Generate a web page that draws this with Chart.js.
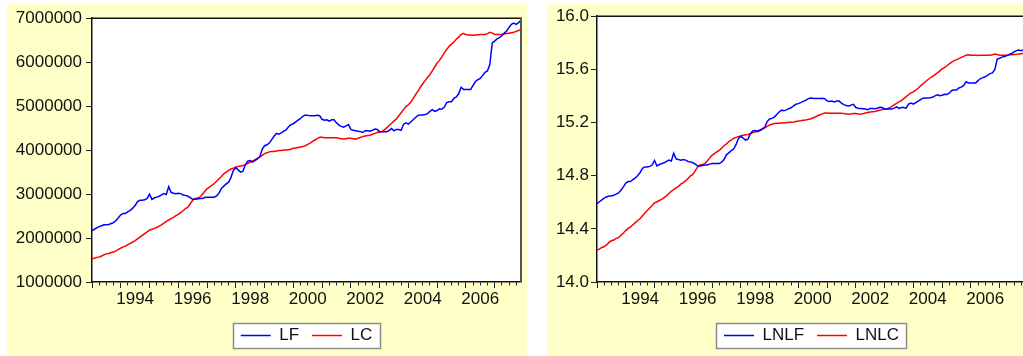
<!DOCTYPE html>
<html><head><meta charset="utf-8">
<script src="https://cdn.jsdelivr.net/npm/chart.js@4.4.1/dist/chart.umd.min.js"></script>
<style>
html,body{margin:0;padding:0;background:#fff;overflow:hidden;width:1023px;height:356px;position:relative;}
.panel{position:absolute;top:4px;height:352px;width:520px;background:#FFFFC8;}
#p1{left:7px;} #p2{left:547px;}
canvas{display:block}
</style></head><body>
<div class="panel" id="p1"><canvas id="c1" width="520" height="352"></canvas></div>
<div class="panel" id="p2"><canvas id="c2" width="520" height="352"></canvas></div>
<script>
// ---- data (monthly, 1993M01 .. 2007M12) ----
const START_YEAR = 1993, END_YEAR = 2007;
const MONTHS = [];
for (let y = START_YEAR; y <= END_YEAR; y++) for (let m = 1; m <= 12; m++) MONTHS.push(y + 'M' + (m < 10 ? '0' + m : m));
const YEAR_LABELS = ['1994','1996','1998','2000','2002','2004','2006'];

const LF = [2170000,2200000,2230000,2260000,2280000,2300000,2300000,2310000,2330000,2350000,2400000,2460000,
2530000,2560000,2560000,2600000,2630000,2680000,2740000,2830000,2860000,2860000,2870000,2900000,
3000000,2880000,2910000,2930000,2950000,2980000,3010000,2990000,3170000,3040000,3020000,3010000,
3020000,3010000,2980000,2970000,2950000,2920000,2880000,2880000,2890000,2900000,2900000,2920000,
2930000,2930000,2930000,2930000,2960000,3020000,3130000,3180000,3230000,3270000,3380000,3540000,
3600000,3550000,3500000,3520000,3670000,3750000,3760000,3730000,3760000,3800000,3850000,4020000,
4100000,4120000,4160000,4240000,4320000,4380000,4360000,4390000,4430000,4460000,4530000,4580000,
4600000,4640000,4680000,4720000,4770000,4800000,4790000,4780000,4780000,4780000,4790000,4780000,
4700000,4680000,4690000,4660000,4690000,4690000,4620000,4570000,4540000,4520000,4550000,4580000,
4470000,4450000,4440000,4430000,4420000,4400000,4440000,4440000,4430000,4450000,4480000,4470000,
4420000,4420000,4420000,4420000,4450000,4490000,4440000,4470000,4470000,4450000,4590000,4620000,
4590000,4640000,4690000,4740000,4790000,4800000,4800000,4810000,4830000,4880000,4920000,4880000,
4900000,4940000,4930000,4980000,5080000,5100000,5100000,5180000,5210000,5280000,5430000,5380000,
5380000,5380000,5380000,5470000,5560000,5600000,5630000,5700000,5770000,5800000,5950000,6440000,
6480000,6530000,6560000,6600000,6660000,6710000,6790000,6860000,6890000,6860000,6900000,6950000];

const LC = [1530000,1540000,1560000,1570000,1590000,1620000,1640000,1650000,1670000,1680000,1710000,1740000,
1770000,1800000,1820000,1850000,1880000,1910000,1940000,1980000,2020000,2060000,2100000,2140000,
2180000,2200000,2220000,2240000,2270000,2300000,2340000,2380000,2410000,2440000,2470000,2510000,
2540000,2580000,2620000,2670000,2700000,2780000,2860000,2900000,2910000,2930000,2990000,3060000,
3120000,3160000,3200000,3240000,3290000,3350000,3400000,3460000,3500000,3540000,3570000,3590000,
3610000,3630000,3640000,3650000,3670000,3700000,3720000,3750000,3780000,3810000,3840000,3880000,
3920000,3940000,3960000,3970000,3970000,3980000,3990000,3990000,4000000,4000000,4010000,4020000,
4040000,4050000,4060000,4070000,4080000,4100000,4130000,4160000,4200000,4230000,4260000,4290000,
4290000,4280000,4280000,4280000,4280000,4280000,4280000,4270000,4260000,4250000,4260000,4270000,
4270000,4260000,4250000,4270000,4290000,4310000,4320000,4330000,4340000,4360000,4380000,4400000,
4410000,4420000,4460000,4510000,4560000,4610000,4660000,4710000,4780000,4850000,4920000,4990000,
5030000,5090000,5170000,5260000,5340000,5430000,5510000,5580000,5650000,5720000,5800000,5890000,
5980000,6040000,6120000,6210000,6290000,6360000,6410000,6460000,6520000,6570000,6630000,6650000,
6630000,6620000,6620000,6610000,6620000,6620000,6630000,6630000,6630000,6650000,6680000,6660000,
6630000,6630000,6630000,6630000,6640000,6650000,6660000,6670000,6680000,6700000,6720000,6740000];

const LNLF = [14.590,14.604,14.618,14.631,14.640,14.648,14.648,14.653,14.661,14.670,14.691,14.716,
14.744,14.756,14.756,14.771,14.783,14.801,14.824,14.856,14.866,14.866,14.870,14.880,
14.914,14.873,14.884,14.891,14.897,14.907,14.917,14.911,14.969,14.927,14.921,14.917,
14.921,14.917,14.907,14.904,14.897,14.887,14.873,14.873,14.877,14.880,14.880,14.887,
14.891,14.891,14.891,14.891,14.901,14.921,14.957,14.972,14.988,15.000,15.033,15.080,
15.096,15.082,15.068,15.074,15.116,15.137,15.140,15.132,15.140,15.151,15.164,15.207,
15.227,15.231,15.241,15.260,15.279,15.293,15.288,15.295,15.304,15.311,15.326,15.337,
15.342,15.350,15.359,15.367,15.378,15.384,15.382,15.380,15.380,15.380,15.382,15.380,
15.363,15.359,15.361,15.355,15.361,15.361,15.346,15.335,15.328,15.324,15.331,15.337,
15.313,15.308,15.306,15.304,15.302,15.297,15.306,15.306,15.304,15.308,15.315,15.313,
15.302,15.302,15.302,15.302,15.308,15.317,15.306,15.313,15.313,15.308,15.339,15.346,
15.339,15.350,15.361,15.372,15.382,15.384,15.384,15.386,15.390,15.401,15.409,15.401,
15.405,15.413,15.411,15.421,15.441,15.445,15.445,15.460,15.466,15.479,15.507,15.498,
15.498,15.498,15.498,15.515,15.531,15.538,15.544,15.556,15.568,15.573,15.599,15.678,
15.684,15.692,15.697,15.703,15.712,15.719,15.731,15.741,15.746,15.741,15.747,15.754];

const LNLC = [14.241,14.247,14.260,14.267,14.279,14.298,14.310,14.316,14.328,14.334,14.352,14.369,
14.387,14.403,14.414,14.431,14.447,14.463,14.478,14.499,14.519,14.538,14.557,14.576,
14.595,14.604,14.613,14.622,14.635,14.648,14.666,14.683,14.695,14.708,14.720,14.736,
14.748,14.763,14.779,14.798,14.809,14.838,14.866,14.880,14.884,14.891,14.911,14.934,
14.953,14.966,14.979,14.991,15.006,15.025,15.039,15.057,15.068,15.080,15.088,15.094,
15.099,15.105,15.108,15.110,15.116,15.124,15.129,15.137,15.145,15.153,15.161,15.171,
15.182,15.187,15.192,15.194,15.194,15.197,15.199,15.199,15.202,15.202,15.204,15.207,
15.212,15.214,15.217,15.219,15.222,15.227,15.234,15.241,15.251,15.258,15.265,15.272,
15.272,15.270,15.270,15.270,15.270,15.270,15.270,15.267,15.265,15.262,15.265,15.267,
15.267,15.265,15.262,15.267,15.272,15.276,15.279,15.281,15.283,15.288,15.293,15.297,
15.299,15.302,15.311,15.322,15.333,15.344,15.355,15.365,15.380,15.395,15.409,15.423,
15.431,15.443,15.458,15.476,15.491,15.507,15.522,15.535,15.547,15.560,15.573,15.589,
15.604,15.614,15.627,15.642,15.655,15.666,15.673,15.681,15.690,15.698,15.707,15.710,
15.707,15.706,15.706,15.704,15.706,15.706,15.707,15.707,15.707,15.710,15.715,15.712,
15.707,15.707,15.707,15.707,15.709,15.710,15.712,15.713,15.715,15.718,15.721,15.724];

// ---- styling / drawing ----
const FONT = {family: '"Liberation Sans", Arial, sans-serif', size: 17};
const TEXT = '#111';
const BLUE = '#0000ff', RED = '#ff0000';

const framePlugin = {
  id: 'frame',
  beforeDraw(chart) {
    const {ctx, chartArea: a} = chart;
    ctx.save();
    ctx.fillStyle = '#fff';
    ctx.fillRect(a.left, a.top, a.right - a.left, a.bottom - a.top);
    const hb = chart.legend && chart.legend.legendHitBoxes;
    if (hb && hb.length) {
      const l = Math.min(...hb.map(h => h.left)) - 8;
      const r = Math.max(...hb.map(h => h.left + h.width)) + 7;
      const t = hb[0].top + hb[0].height / 2 - 12.5;
      ctx.fillRect(l, t, r - l, 25);
      ctx.strokeStyle = '#8c8c8c'; ctx.lineWidth = 1.5;
      ctx.strokeRect(Math.round(l) + 0.5, Math.round(t) + 0.5, Math.round(r - l), 25);
    }
    ctx.restore();
  },
  afterDatasetsDraw(chart) {
    const {ctx, chartArea: a} = chart;
    ctx.save();
    ctx.strokeStyle = '#111'; ctx.lineWidth = 1.5;
    ctx.beginPath(); ctx.moveTo(a.left, a.top); ctx.lineTo(a.right + 1, a.top); ctx.stroke();
    ctx.strokeStyle = '#555'; ctx.lineWidth = 2;
    ctx.beginPath(); ctx.moveTo(a.right, a.top); ctx.lineTo(a.right, a.bottom); ctx.stroke();
    ctx.restore();
  }
};

function makeChart(id, names, a, b, yMin, yMax, yStep, fmt, yWidth, yPad, padRight) {
  return new Chart(document.getElementById(id), {
    type: 'line',
    data: {
      labels: MONTHS,
      datasets: [
        {label: names[0], data: a, borderColor: BLUE, backgroundColor: BLUE, borderWidth: 1.5,
         pointRadius: 0, pointHoverRadius: 0, tension: 0, fill: false, pointStyle: 'line'},
        {label: names[1], data: b, borderColor: RED, backgroundColor: RED, borderWidth: 1.5,
         pointRadius: 0, pointHoverRadius: 0, tension: 0, fill: false, pointStyle: 'line'}
      ]
    },
    options: {
      responsive: false, animation: false, events: [],
      layout: {padding: {left: 0, top: 11, right: padRight, bottom: 2}},
      plugins: {
        legend: {
          position: 'bottom', fullSize: false,
          labels: {usePointStyle: true, pointStyle: 'line', pointStyleWidth: 30, padding: 13,
                   font: FONT, color: TEXT}
        },
        tooltip: {enabled: false}
      },
      scales: {
        x: {
          type: 'category', offset: false,
          afterFit(s) { s.height = 32; },
          afterBuildTicks(s) { s.ticks = s.ticks.filter(t => t.value % 3 === 0); },
          ticks: {
            autoSkip: false, maxRotation: 0, minRotation: 0, padding: 1, font: FONT, color: TEXT,
            callback(v) {
              const yr = String(START_YEAR + Math.floor(v / 12));
              return (v % 12 === 6 && YEAR_LABELS.includes(yr)) ? yr : '';
            }
          },
          grid: {
            drawOnChartArea: false, drawTicks: true, tickLength: 6, tickColor: '#222', tickWidth: 1,
            tickBorderDash: (c) => (c.tick && c.tick.value % 12 === 0) ? [] : [3, 10]
          },
          border: {display: true, color: '#111', width: 1.5}
        },
        y: {
          min: yMin, max: yMax,
          afterFit(s) { s.width = yWidth; },
          ticks: {stepSize: yStep, padding: yPad, font: FONT, color: TEXT, callback: fmt},
          grid: {drawOnChartArea: false, drawTicks: true, tickLength: 6, tickColor: '#222', tickWidth: 1},
          border: {display: true, color: '#111', width: 1.5}
        }
      }
    },
    plugins: [framePlugin]
  });
}

makeChart('c1', ['LF', 'LC'], LF, LC, 1000000, 7000000, 1000000, v => String(v), 85, 4, 6);
makeChart('c2', ['LNLF', 'LNLC'], LNLF, LNLC, 14, 16, 0.4, v => Number(v).toFixed(1), 50, 2, 41);
</script>
</body></html>
